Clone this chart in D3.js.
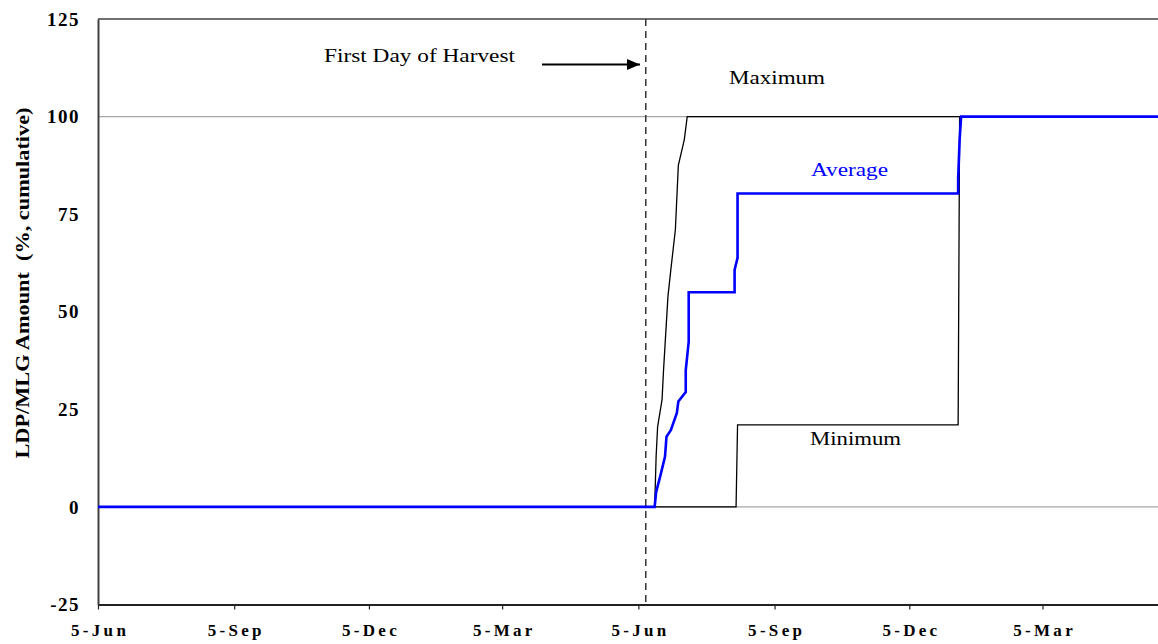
<!DOCTYPE html>
<html>
<head>
<meta charset="utf-8">
<script src="https://cdn.jsdelivr.net/npm/d3@7"></script>
<style>
  html, body { margin: 0; padding: 0; background: #fff; }
  svg { display: block; }
  text { font-family: "Liberation Serif", "Times New Roman", serif; }
</style>
</head>
<body>
<svg id="chart" width="1158" height="644"></svg>
<script>
// ---- data ----
const maxDates  = ["2005-06-05","2006-06-16","2006-06-17","2006-06-18","2006-06-21","2006-06-22","2006-06-25","2006-06-27","2006-06-30","2006-07-02","2006-07-06","2006-07-08","2007-05-22"];
const maxValues = [0, 0, 13, 20.5, 27.5, 35, 54, 61, 71, 87.5, 94, 100, 100];

const minDates  = ["2005-06-05","2006-08-10","2006-08-11","2007-01-07","2007-01-08","2007-05-22"];
const minValues = [0, 0, 21, 21, 100, 100];

const avgDates  = ["2005-06-05","2006-06-16","2006-06-17","2006-06-20","2006-06-23","2006-06-24","2006-06-27","2006-07-01","2006-07-02","2006-07-07","2006-07-07","2006-07-09","2006-07-09","2006-08-09","2006-08-09","2006-08-11","2006-08-11","2007-01-07","2007-01-07","2007-01-08","2007-01-09","2007-05-22"];
const avgValues = [0, 0, 3.8, 8.2, 12.9, 18, 19.7, 24.1, 27, 29.4, 35, 42.3, 55, 55, 60.7, 63.8, 80.3, 80.3, 84.2, 94, 100, 100];

const harvestDate = "2006-06-10";

const xTickDates  = ["2005-06-05","2005-09-05","2005-12-05","2006-03-05","2006-06-05","2006-09-05","2006-12-05","2007-03-05"];
const xTickLabels = ["5-Jun","5-Sep","5-Dec","5-Mar","5-Jun","5-Sep","5-Dec","5-Mar"];
const yTicks      = [-25, 0, 25, 50, 75, 100, 125];
const yTickLabels = ["-25", "0", "25", "50", "75", "100", "125"];
const gridValues  = [0, 100];
const xDomain     = ["2005-06-05", "2007-05-22"];

const yTitle = "LDP/MLG Amount  (%, cumulative)";

// ---- chart ----
const parse = d3.utcParse("%Y-%m-%d");
const svg = d3.select("#chart");

const x = d3.scaleUtc().domain(xDomain.map(parse)).range([98, 1158]);
const y = d3.scaleLinear().domain([-25, 125]).range([604.5, 19]);

// gridlines
svg.append("g").selectAll("line").data(gridValues).join("line")
  .attr("x1", 98).attr("x2", 1158)
  .attr("y1", d => y(d)).attr("y2", d => y(d))
  .attr("stroke", "#a6a6a6").attr("stroke-width", 1.2);

// top border
svg.append("line")
  .attr("x1", 98).attr("x2", 1158).attr("y1", y(125)).attr("y2", y(125))
  .attr("stroke", "#404040").attr("stroke-width", 1.5);

// x axis
const xAxis = d3.axisBottom(x)
  .tickValues(xTickDates.map(parse))
  .tickFormat((d, i) => xTickLabels[i])
  .tickSize(5).tickSizeOuter(0).tickPadding(14);
const gx = svg.append("g").attr("transform", `translate(0,${y(-25)})`).call(xAxis);
gx.select(".domain").attr("stroke", "#222").attr("stroke-width", 2);
gx.selectAll(".tick line").attr("stroke", "#222").attr("stroke-width", 1.2);
gx.selectAll(".tick text")
  .attr("font-family", "Liberation Serif, Times New Roman, serif")
  .attr("font-size", 17).attr("font-weight", "bold")
  .attr("letter-spacing", "3.3px").attr("fill", "#000")
  .attr("dx", "1.6px");

// y axis
const yAxis = d3.axisLeft(y).tickValues(yTicks).tickSize(0).tickPadding(18)
  .tickFormat((d, i) => yTickLabels[i]);
const gy = svg.append("g").attr("transform", "translate(98,0)").call(yAxis);
gy.select(".domain").attr("stroke", "#404040").attr("stroke-width", 2);
gy.selectAll(".tick text")
  .attr("font-family", "Liberation Serif, Times New Roman, serif")
  .attr("font-size", 19).attr("font-weight", "bold").attr("fill", "#000")
  .attr("letter-spacing", "1.5px");

// y title
svg.append("text")
  .attr("transform", "translate(22,283) rotate(-90)")
  .attr("text-anchor", "middle").attr("dominant-baseline", "central")
  .attr("font-size", 19).attr("font-weight", "bold")
  .style("white-space", "pre")
  .attr("textLength", 351).attr("lengthAdjust", "spacingAndGlyphs")
  .text(yTitle);

// harvest dashed line
svg.append("line")
  .attr("x1", x(parse(harvestDate))).attr("x2", x(parse(harvestDate)))
  .attr("y1", y(125)).attr("y2", y(-25))
  .attr("stroke", "#333").attr("stroke-width", 1.5)
  .attr("stroke-dasharray", "7,5");

// lines
const line = d3.line().x(d => x(d[0])).y(d => y(d[1]));
const zip = (ds, vs) => ds.map((d, i) => [parse(d), vs[i]]);

svg.append("path").datum(zip(minDates, minValues))
  .attr("d", line).attr("fill", "none").attr("stroke", "#000").attr("stroke-width", 1.3);
svg.append("path").datum(zip(maxDates, maxValues))
  .attr("d", line).attr("fill", "none").attr("stroke", "#000").attr("stroke-width", 1.3);
svg.append("path").datum(zip(avgDates, avgValues))
  .attr("d", line).attr("fill", "none").attr("stroke", "#0000ff").attr("stroke-width", 2.6)
  .attr("stroke-linejoin", "miter");

// annotations
const defs = svg.append("defs");
defs.append("marker").attr("id", "arrow")
  .attr("viewBox", "0 0 13 11").attr("refX", 13).attr("refY", 5.5)
  .attr("markerWidth", 13).attr("markerHeight", 11)
  .attr("markerUnits", "userSpaceOnUse").attr("orient", "auto")
  .append("path").attr("d", "M0,0 L13,5.5 L0,11 Z").attr("fill", "#000");

svg.append("line")
  .attr("x1", 542).attr("x2", 640).attr("y1", 64.5).attr("y2", 64.5)
  .attr("stroke", "#000").attr("stroke-width", 2.2)
  .attr("marker-end", "url(#arrow)");

const labels = [
  { t: "First Day of Harvest", x: 324, y: 62, w: 191, c: "#000" },
  { t: "Maximum", x: 729, y: 84, w: 96, c: "#000" },
  { t: "Average", x: 811, y: 176, w: 77, c: "#0000ff" },
  { t: "Minimum", x: 810, y: 445, w: 91, c: "#000" }
];
svg.append("g").selectAll("text").data(labels).join("text")
  .attr("x", d => d.x).attr("y", d => d.y)
  .attr("font-size", 19).attr("fill", d => d.c)
  .attr("textLength", d => d.w).attr("lengthAdjust", "spacingAndGlyphs")
  .text(d => d.t);
</script>
</body>
</html>
